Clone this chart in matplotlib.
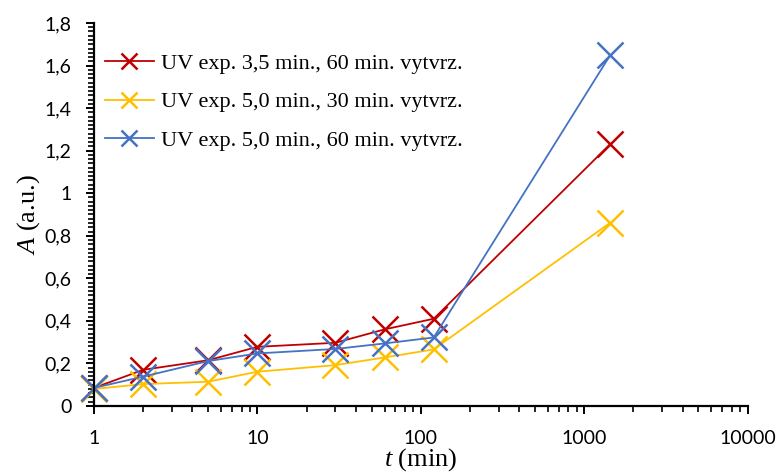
import numpy as np
import matplotlib.pyplot as plt
from matplotlib.ticker import FixedLocator, MultipleLocator, FuncFormatter, LogLocator

plt.rcParams['mathtext.fontset'] = 'custom'
plt.rcParams['mathtext.it'] = 'Liberation Serif:italic'
plt.rcParams['mathtext.rm'] = 'Liberation Serif'

# time points (min)
t = [1, 2, 5, 10, 30, 60, 120, 1440]

# absorbance series
a_35_60 = [0.085, 0.17, 0.215, 0.278, 0.297, 0.36, 0.41, 1.23]
a_50_30 = [0.08, 0.103, 0.114, 0.161, 0.192, 0.228, 0.266, 0.861]
a_50_60 = [0.085, 0.138, 0.211, 0.247, 0.268, 0.294, 0.322, 1.648]

labels = ["UV exp. 3,5 min., 60 min. vytvrz.",
          "UV exp. 5,0 min., 30 min. vytvrz.",
          "UV exp. 5,0 min., 60 min. vytvrz."]
colors = ["#C00000", "#FFC000", "#4472C4"]

fig = plt.figure(figsize=(7.8, 4.74), dpi=100)
ax = fig.add_axes([0.1205, 0.1435, 0.838, 0.808])

for y, lab, c in zip([a_35_60, a_50_30, a_50_60], labels, colors):
    ax.plot(t, y, color=c, lw=1.3, marker='x', markersize=19, mew=1.8,
            label=lab, clip_on=False)

ax.set_xscale('log')
ax.set_xlim(1, 10000)
ax.set_ylim(0, 1.8)

ax.yaxis.set_major_locator(MultipleLocator(0.2))
ax.yaxis.set_minor_locator(MultipleLocator(0.02))
ax.yaxis.set_major_formatter(FuncFormatter(lambda v, p: ('%g' % round(v, 2)).replace('.', ',')))
ax.xaxis.set_major_locator(FixedLocator([1, 10, 100, 1000, 10000]))
ax.xaxis.set_minor_locator(LogLocator(base=10, subs=np.arange(2, 10)))
ax.xaxis.set_major_formatter(FuncFormatter(lambda v, p: '%d' % v))

for s in ['top', 'right']:
    ax.spines[s].set_visible(False)
for s in ['left', 'bottom']:
    ax.spines[s].set_linewidth(1.6)

ax.tick_params(axis='both', which='major', length=6, width=1.4, labelsize=14,
               labelfontfamily='Lato')
ax.tick_params(axis='both', which='minor', length=4, width=1.2)
ax.tick_params(axis='x', which='major', pad=11)
ax.tick_params(axis='y', which='major', pad=10)

ax.set_xlabel(r'$\it{t}$ (min)', fontsize=19, family='Liberation Serif', labelpad=0)
ax.set_ylabel(r'$\it{A}$ (a.u.)', fontsize=19, family='Liberation Serif', labelpad=2)

leg = ax.legend(loc='upper left', bbox_to_anchor=(-0.007, 0.962), frameon=False,
                prop={'family': 'Liberation Serif', 'size': 16},
                markerscale=0.6, handlelength=2.2, handletextpad=0.3,
                labelspacing=0.82, borderaxespad=0.3)

fig.savefig('out.png', dpi=100)
